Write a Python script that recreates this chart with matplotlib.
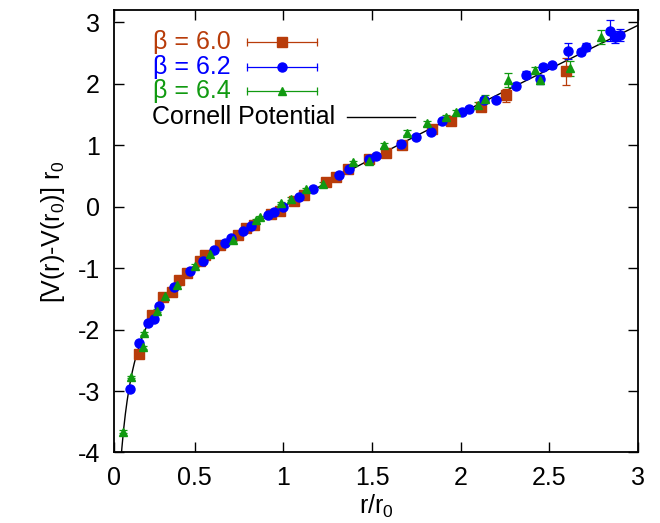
import numpy as np
import matplotlib.pyplot as plt

plt.rcParams['font.family'] = ['Liberation Sans', 'DejaVu Sans']
plt.rcParams['mathtext.default'] = 'regular'
plt.rcParams['axes.unicode_minus'] = False

# beta = 6.0
x60 = [0.187, 0.257, 0.322, 0.375, 0.410, 0.457, 0.529, 0.561, 0.641, 0.744,
       0.791, 0.832, 0.932, 0.979, 1.063, 1.119, 1.241, 1.298, 1.363, 1.485,
       1.579, 1.672, 1.841, 1.944, 2.113, 2.254, 2.594]
y60 = [-2.40, -1.77, -1.47, -1.39, -1.19, -1.08, -0.89, -0.79, -0.63, -0.46,
       -0.35, -0.29, -0.12, -0.07, 0.09, 0.19, 0.40, 0.48, 0.62, 0.78,
       0.87, 1.00, 1.27, 1.40, 1.63, 1.81, 2.20]
e60 = [0.02, 0.02, 0.02, 0.02, 0.02, 0.02, 0.02, 0.02, 0.02, 0.02,
       0.02, 0.02, 0.02, 0.02, 0.02, 0.02, 0.02, 0.02, 0.02, 0.03,
       0.03, 0.03, 0.03, 0.04, 0.05, 0.11, 0.22]

# beta = 6.2
x62 = [0.135, 0.187, 0.235, 0.270, 0.300, 0.382, 0.472, 0.547, 0.607, 0.673,
       0.707, 0.772, 0.819, 0.913, 0.950, 0.997, 1.091, 1.166, 1.316, 1.372,
       1.485, 1.523, 1.663, 1.747, 1.832, 1.897, 2.010, 2.047, 2.132, 2.197,
       2.310, 2.366, 2.445, 2.463, 2.516, 2.606, 2.681, 2.707, 2.844, 2.872,
       2.900]
y62 = [-2.97, -2.22, -1.90, -1.83, -1.61, -1.30, -1.04, -0.88, -0.71, -0.59,
       -0.51, -0.40, -0.31, -0.13, -0.09, 0.00, 0.15, 0.29, 0.51, 0.62,
       0.77, 0.83, 1.02, 1.13, 1.21, 1.40, 1.54, 1.59, 1.73, 1.74,
       1.97, 2.15, 2.07, 2.27, 2.30, 2.53, 2.52, 2.60, 2.86, 2.76,
       2.79]
e62 = [0.02, 0.02, 0.02, 0.02, 0.02, 0.02, 0.02, 0.02, 0.02, 0.02,
       0.02, 0.02, 0.02, 0.02, 0.02, 0.02, 0.02, 0.02, 0.02, 0.02,
       0.02, 0.02, 0.03, 0.03, 0.03, 0.03, 0.03, 0.03, 0.05, 0.03,
       0.04, 0.05, 0.07, 0.05, 0.04, 0.13, 0.05, 0.06, 0.17, 0.10,
       0.10]

# beta = 6.4
x64 = [0.094, 0.139, 0.206, 0.215, 0.285, 0.332, 0.398, 0.500, 0.585, 0.716,
       0.848, 0.866, 0.988, 1.044, 1.129, 1.222, 1.391, 1.485, 1.569, 1.700,
       1.813, 1.916, 1.976, 2.100, 2.137, 2.268, 2.419, 2.445, 2.619, 2.794]
y64 = [-3.66, -2.77, -2.29, -2.06, -1.69, -1.45, -1.27, -0.96, -0.77, -0.54,
       -0.22, -0.17, 0.06, 0.13, 0.29, 0.37, 0.72, 0.75, 1.00, 1.20,
       1.36, 1.46, 1.54, 1.66, 1.76, 2.06, 2.22, 2.06, 2.25, 2.76]
e64 = [0.02, 0.02, 0.02, 0.02, 0.02, 0.02, 0.02, 0.02, 0.02, 0.02,
       0.02, 0.02, 0.02, 0.02, 0.02, 0.03, 0.03, 0.03, 0.04, 0.04,
       0.04, 0.04, 0.04, 0.05, 0.06, 0.12, 0.05, 0.07, 0.12, 0.12]

labels = ['\u03b2 = 6.0', '\u03b2 = 6.2', '\u03b2 = 6.4']
colors = ['#b83c0a', '#0000ff', '#119a11']
markers = ['s', 'o', '^']
msizes = [7, 6.5, 6]

# Cornell potential: r0^2 F(r0) = 1.65, Coulomb coefficient pi/12
e_coul = np.pi / 12
sig = 1.65 - e_coul

xtick_vals = [0.045, 0.5, 1, 1.5, 2, 2.5, 3]
xtick_labs = ['0', '0.5', '1', '1.5', '2', '2.5', '3']

fig = plt.figure(figsize=(6.6, 5.23), dpi=100)
ax = fig.add_axes([0.1727, 0.1348, 0.7939, 0.846])

r = np.linspace(0.045, 3, 600)
ax.plot(r, -e_coul * (1 / r - 1) + sig * (r - 1), color='k', lw=1.0, zorder=1)

series = [(x60, y60, e60), (x62, y62, e62), (x64, y64, e64)]
for (xs, ys, es), c, m, ms in zip(series, colors, markers, msizes):
    ax.errorbar(xs, ys, yerr=es, fmt=m, color=c, ms=ms, mec=c,
                elinewidth=0.9, capsize=3, capthick=0.9, zorder=2)

# legend drawn gnuplot style: text left, sample right
ly = [0.9276, 0.871, 0.8167]
for yy, lab, c, m, ms in zip(ly, labels, colors, markers, msizes):
    ax.text(0.074, yy, lab, color=c, fontsize=18, va='center', ha='left',
            transform=ax.transAxes)
    ax.plot([0.2538, 0.3874], [yy, yy], color=c, lw=0.9, transform=ax.transAxes)
    ax.plot([0.2538, 0.3874], [yy, yy], ls='none', marker='|', ms=6, mew=0.9,
            color=c, transform=ax.transAxes)
    ax.plot([0.3206], [yy], marker=m, ms=ms, color=c, transform=ax.transAxes)
ax.text(0.0725, 0.758, 'Cornell Potential', color='k', fontsize=18,
        va='center', ha='left', transform=ax.transAxes)
ax.plot([0.4447, 0.5744], [0.758, 0.758], color='k', lw=1.0,
        transform=ax.transAxes)

ax.set_xlim(0.045, 3)
ax.set_ylim(-4, 3.2)
ax.set_xticks(xtick_vals)
ax.set_xticklabels(xtick_labs)
ax.set_yticks(range(-4, 4))
ax.tick_params(direction='in', top=True, right=True, length=7, width=1,
               labelsize=18, pad=10)
for s in ax.spines.values():
    s.set_linewidth(1.3)
ax.set_xlabel('r/r$_0$', fontsize=18, labelpad=2)
ax.set_ylabel('[V(r)-V(r$_0$)] r$_0$', fontsize=18, labelpad=8)

fig.savefig('out.png', dpi=100)
